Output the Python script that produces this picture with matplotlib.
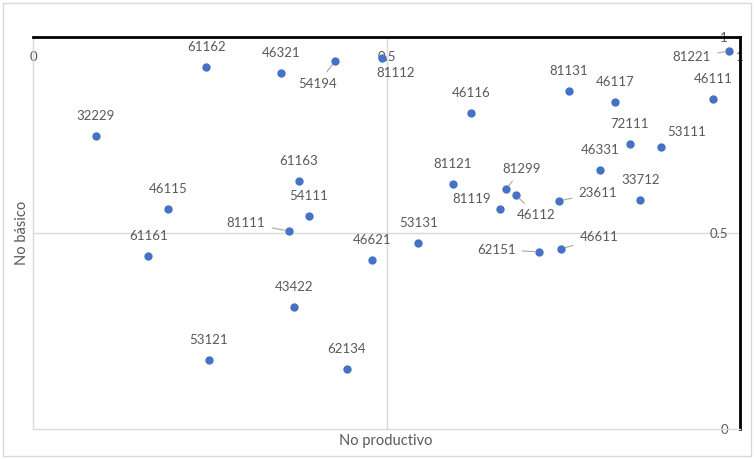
import matplotlib.pyplot as plt
from matplotlib import patches

# Codes and their (no productivo, no básico) scores
codes = ["32229", "61162", "46321", "54194", "81112", "46116", "81131", "46117",
         "81221", "46111", "72111", "53111", "46331", "33712", "23611", "81299",
         "46112", "81119", "81121", "62151", "46611", "53131", "46621", "61163",
         "54111", "81111", "46115", "61161", "43422", "53121", "62134"]
no_productivo = [0.089, 0.245, 0.351, 0.427, 0.494, 0.620, 0.758, 0.823,
                 0.984, 0.962, 0.844, 0.888, 0.802, 0.859, 0.744, 0.669,
                 0.683, 0.661, 0.594, 0.716, 0.747, 0.545, 0.479, 0.376,
                 0.390, 0.362, 0.191, 0.163, 0.369, 0.249, 0.444]
no_basico = [0.747, 0.923, 0.908, 0.939, 0.946, 0.806, 0.862, 0.834,
             0.964, 0.842, 0.727, 0.719, 0.661, 0.584, 0.582, 0.612,
             0.597, 0.561, 0.625, 0.452, 0.459, 0.474, 0.431, 0.633,
             0.543, 0.505, 0.561, 0.441, 0.311, 0.176, 0.153]

ticks = [0, 0.5, 1]
tick_labels = ["0", "0.5", "1"]

# label placement (pixel offsets from the marker) and whether a leader line is drawn
DEFAULT_OFFSET = (0, 20)
label_offsets = {
    "54194": (-17, -23, True),
    "81112": (13, -15, False),
    "81221": (-37, -6, True),
    "53111": (26, 15, False),
    "23611": (39, 8, True),
    "81299": (16, 20, True),
    "46112": (20, -20, True),
    "81119": (-29, 10, False),
    "62151": (-43, 2, True),
    "46611": (38, 12, True),
    "81111": (-43, 8, True),
}

TEXT_GRAY = "#595959"
GRID_GRAY = "#d9d9d9"
DOT_BLUE = "#4472C4"
PX = 72 / 100  # pixels -> points

plt.rcParams["font.family"] = ["Lato", "DejaVu Sans"]

fig = plt.figure(figsize=(7.54, 4.59), dpi=100)
fig.patches.append(patches.Rectangle((3 / 754, 3 / 459), 748 / 754, 453 / 459,
                                     transform=fig.transFigure, fill=False,
                                     edgecolor=GRID_GRAY, linewidth=1))

ax = fig.add_axes([33 / 754, 30 / 459, 707 / 754, 392 / 459])
ax.set_xlim(0, 1)
ax.set_ylim(0, 1)

# quadrant lines at 0.5
ax.axvline(0.5, color=GRID_GRAY, linewidth=1, zorder=0)
ax.axhline(0.5, color=GRID_GRAY, linewidth=1, zorder=0)

for side in ["left", "bottom"]:
    ax.spines[side].set_color(GRID_GRAY)
    ax.spines[side].set_linewidth(1)
for side in ["top", "right"]:
    ax.spines[side].set_color("black")
    ax.spines[side].set_linewidth(2)

# tick labels drawn inside the plot, under the top spine and left of the right spine
ax.xaxis.tick_top()
ax.set_xticks(ticks)
ax.set_xticklabels(tick_labels)
ax.yaxis.tick_right()
ax.set_yticks(ticks)
ax.set_yticklabels(tick_labels)
ax.tick_params(axis="x", length=0, pad=-20 * PX, labelsize=9.5, labelcolor=TEXT_GRAY)
ax.tick_params(axis="y", length=0, pad=-12 * PX, labelsize=9.5, labelcolor=TEXT_GRAY)
for lbl in ax.get_xticklabels():
    lbl.set_va("center")
for lbl in ax.get_yticklabels():
    lbl.set_ha("right")

ax.scatter(no_productivo, no_basico, s=36, color=DOT_BLUE, zorder=3, linewidths=0)

for code, x, y in zip(codes, no_productivo, no_basico):
    dx, dy, leader = label_offsets.get(code, (*DEFAULT_OFFSET, False))
    arrow = dict(arrowstyle="-", color="#a6a6a6", linewidth=0.8, shrinkA=3, shrinkB=3) if leader else None
    ax.annotate(code, (x, y), xytext=(dx * PX, dy * PX), textcoords="offset points",
                ha="center", va="center", fontsize=9.5, color=TEXT_GRAY,
                arrowprops=arrow, zorder=4)

fig.text(22 / 754, 1 - 233 / 459, "No básico", rotation=90, ha="center", va="center",
         fontsize=10.5, color=TEXT_GRAY)
fig.text(386 / 754, 1 - 441 / 459, "No productivo", ha="center", va="center",
         fontsize=10.5, color=TEXT_GRAY)

fig.savefig("out.png", dpi=100)
